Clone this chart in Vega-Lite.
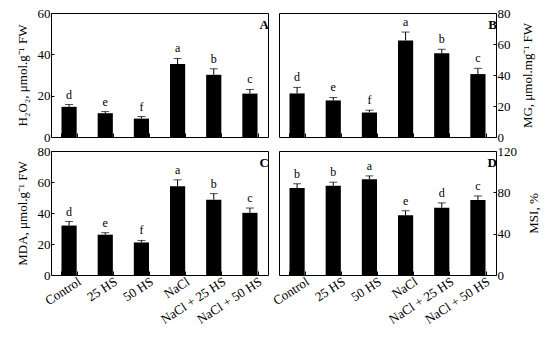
{
  "$schema": "https://vega.github.io/schema/vega-lite/v6.json",
  "background": "white",
  "padding": {"left": 15, "top": 6, "right": 3, "bottom": 3},
  "datasets": {
    "d": [
      {"panel": "A", "treatment": "Control", "value": 14.6, "top": 15.7, "letter": "d"},
      {"panel": "A", "treatment": "25 HS", "value": 11.5, "top": 12.3, "letter": "e"},
      {"panel": "A", "treatment": "50 HS", "value": 8.9, "top": 9.9, "letter": "f"},
      {"panel": "A", "treatment": "NaCl", "value": 35.3, "top": 38.0, "letter": "a"},
      {"panel": "A", "treatment": "NaCl + 25 HS", "value": 30.1, "top": 33.0, "letter": "b"},
      {"panel": "A", "treatment": "NaCl + 50 HS", "value": 21.0, "top": 23.0, "letter": "c"},
      {"panel": "B", "treatment": "Control", "value": 28.1, "top": 32.0, "letter": "d"},
      {"panel": "B", "treatment": "25 HS", "value": 23.6, "top": 25.5, "letter": "e"},
      {"panel": "B", "treatment": "50 HS", "value": 15.8, "top": 17.3, "letter": "f"},
      {"panel": "B", "treatment": "NaCl", "value": 62.3, "top": 67.7, "letter": "a"},
      {"panel": "B", "treatment": "NaCl + 25 HS", "value": 54.1, "top": 56.6, "letter": "b"},
      {"panel": "B", "treatment": "NaCl + 50 HS", "value": 40.6, "top": 44.3, "letter": "c"},
      {"panel": "C", "treatment": "Control", "value": 31.9, "top": 34.5, "letter": "d"},
      {"panel": "C", "treatment": "25 HS", "value": 26.0, "top": 27.3, "letter": "e"},
      {"panel": "C", "treatment": "50 HS", "value": 21.0, "top": 22.3, "letter": "f"},
      {"panel": "C", "treatment": "NaCl", "value": 57.3, "top": 61.4, "letter": "a"},
      {"panel": "C", "treatment": "NaCl + 25 HS", "value": 48.6, "top": 52.5, "letter": "b"},
      {"panel": "C", "treatment": "NaCl + 50 HS", "value": 40.1, "top": 43.2, "letter": "c"},
      {"panel": "D", "treatment": "Control", "value": 84.1, "top": 88.3, "letter": "b"},
      {"panel": "D", "treatment": "25 HS", "value": 86.3, "top": 89.8, "letter": "b"},
      {"panel": "D", "treatment": "50 HS", "value": 92.7, "top": 95.9, "letter": "a"},
      {"panel": "D", "treatment": "NaCl", "value": 57.8, "top": 62.2, "letter": "e"},
      {"panel": "D", "treatment": "NaCl + 25 HS", "value": 65.1, "top": 69.8, "letter": "d"},
      {"panel": "D", "treatment": "NaCl + 50 HS", "value": 72.7, "top": 76.5, "letter": "c"}
    ]
  },
  "data": {"name": "d"},
  "columns": 2,
  "bounds": "flush",
  "spacing": {"row": 14, "column": 11},
  "concat": [
    {
      "width": 217, "height": 124,
      "transform": [{"filter": "datum.panel === 'A'"}],
      "title": {"text": "A", "anchor": "end", "frame": "group", "offset": -25, "dx": 1, "fontWeight": "bold", "fontSize": 13, "font": "Liberation Serif", "color": "black"},
      "encoding": {"x": {"field": "treatment", "type": "nominal", "sort": ["Control", "25 HS", "50 HS", "NaCl", "NaCl + 25 HS", "NaCl + 50 HS"], "scale": {"paddingInner": 0.58, "paddingOuter": 0.29}, "axis": {"labels": false, "title": null}}},
      "layer": [
        {"mark": {"type": "bar", "color": "black"}, "encoding": {"y": {"field": "value", "type": "quantitative", "scale": {"domain": [0, 60]}, "axis": {"values": [0, 20, 40, 60], "title": "H₂O₂, μmol.g⁻¹ FW", "orient": "left"}}}},
        {"mark": {"type": "rule", "color": "black"}, "encoding": {"y": {"field": "value", "type": "quantitative", "axis": {"values": [0, 20, 40, 60], "title": "H₂O₂, μmol.g⁻¹ FW", "orient": "left"}}, "y2": {"field": "top"}}},
        {"mark": {"type": "tick", "color": "black", "size": 8, "thickness": 1}, "encoding": {"y": {"field": "top", "type": "quantitative", "axis": {"values": [0, 20, 40, 60], "title": "H₂O₂, μmol.g⁻¹ FW", "orient": "left"}}}},
        {"mark": {"type": "text", "baseline": "bottom", "dy": -3, "fontSize": 12, "font": "Liberation Serif", "color": "black"}, "encoding": {"y": {"field": "top", "type": "quantitative", "axis": {"values": [0, 20, 40, 60], "title": "H₂O₂, μmol.g⁻¹ FW", "orient": "left"}}, "text": {"field": "letter"}}}
      ]
    },
    {
      "width": 217, "height": 124,
      "transform": [{"filter": "datum.panel === 'B'"}],
      "title": {"text": "B", "anchor": "end", "frame": "group", "offset": -25, "dx": 1, "fontWeight": "bold", "fontSize": 13, "font": "Liberation Serif", "color": "black"},
      "encoding": {"x": {"field": "treatment", "type": "nominal", "sort": ["Control", "25 HS", "50 HS", "NaCl", "NaCl + 25 HS", "NaCl + 50 HS"], "scale": {"paddingInner": 0.58, "paddingOuter": 0.29}, "axis": {"labels": false, "title": null}}},
      "layer": [
        {"mark": {"type": "bar", "color": "black"}, "encoding": {"y": {"field": "value", "type": "quantitative", "scale": {"domain": [0, 80]}, "axis": {"values": [0, 20, 40, 60, 80], "title": "MG, μmol.mg⁻¹ FW", "orient": "right", "titleAngle": 270, "titleBaseline": "top", "titlePadding": 11}}}},
        {"mark": {"type": "rule", "color": "black"}, "encoding": {"y": {"field": "value", "type": "quantitative", "axis": {"values": [0, 20, 40, 60, 80], "title": "MG, μmol.mg⁻¹ FW", "orient": "right", "titleAngle": 270, "titleBaseline": "top", "titlePadding": 11}}, "y2": {"field": "top"}}},
        {"mark": {"type": "tick", "color": "black", "size": 8, "thickness": 1}, "encoding": {"y": {"field": "top", "type": "quantitative", "axis": {"values": [0, 20, 40, 60, 80], "title": "MG, μmol.mg⁻¹ FW", "orient": "right", "titleAngle": 270, "titleBaseline": "top", "titlePadding": 11}}}},
        {"mark": {"type": "text", "baseline": "bottom", "dy": -3, "fontSize": 12, "font": "Liberation Serif", "color": "black"}, "encoding": {"y": {"field": "top", "type": "quantitative", "axis": {"values": [0, 20, 40, 60, 80], "title": "MG, μmol.mg⁻¹ FW", "orient": "right", "titleAngle": 270, "titleBaseline": "top", "titlePadding": 11}}, "text": {"field": "letter"}}}
      ]
    },
    {
      "width": 217, "height": 124,
      "transform": [{"filter": "datum.panel === 'C'"}],
      "title": {"text": "C", "anchor": "end", "frame": "group", "offset": -25, "dx": 1, "fontWeight": "bold", "fontSize": 13, "font": "Liberation Serif", "color": "black"},
      "encoding": {"x": {"field": "treatment", "type": "nominal", "sort": ["Control", "25 HS", "50 HS", "NaCl", "NaCl + 25 HS", "NaCl + 50 HS"], "scale": {"paddingInner": 0.58, "paddingOuter": 0.29}, "axis": {"title": null, "labelAngle": -33, "labelAlign": "right", "labelBaseline": "top", "labelOffset": 7}}},
      "layer": [
        {"mark": {"type": "bar", "color": "black"}, "encoding": {"y": {"field": "value", "type": "quantitative", "scale": {"domain": [0, 80]}, "axis": {"values": [0, 20, 40, 60, 80], "title": "MDA, μmol.g⁻¹ FW", "orient": "left"}}}},
        {"mark": {"type": "rule", "color": "black"}, "encoding": {"y": {"field": "value", "type": "quantitative", "axis": {"values": [0, 20, 40, 60, 80], "title": "MDA, μmol.g⁻¹ FW", "orient": "left"}}, "y2": {"field": "top"}}},
        {"mark": {"type": "tick", "color": "black", "size": 8, "thickness": 1}, "encoding": {"y": {"field": "top", "type": "quantitative", "axis": {"values": [0, 20, 40, 60, 80], "title": "MDA, μmol.g⁻¹ FW", "orient": "left"}}}},
        {"mark": {"type": "text", "baseline": "bottom", "dy": -3, "fontSize": 12, "font": "Liberation Serif", "color": "black"}, "encoding": {"y": {"field": "top", "type": "quantitative", "axis": {"values": [0, 20, 40, 60, 80], "title": "MDA, μmol.g⁻¹ FW", "orient": "left"}}, "text": {"field": "letter"}}}
      ]
    },
    {
      "width": 217, "height": 124,
      "transform": [{"filter": "datum.panel === 'D'"}],
      "title": {"text": "D", "anchor": "end", "frame": "group", "offset": -25, "dx": 1, "fontWeight": "bold", "fontSize": 13, "font": "Liberation Serif", "color": "black"},
      "encoding": {"x": {"field": "treatment", "type": "nominal", "sort": ["Control", "25 HS", "50 HS", "NaCl", "NaCl + 25 HS", "NaCl + 50 HS"], "scale": {"paddingInner": 0.58, "paddingOuter": 0.29}, "axis": {"title": null, "labelAngle": -33, "labelAlign": "right", "labelBaseline": "top", "labelOffset": 7}}},
      "layer": [
        {"mark": {"type": "bar", "color": "black"}, "encoding": {"y": {"field": "value", "type": "quantitative", "scale": {"domain": [0, 120]}, "axis": {"values": [0, 40, 80, 120], "title": "MSI, %", "orient": "right", "titleAngle": 270, "titleBaseline": "top", "titlePadding": 11}}}},
        {"mark": {"type": "rule", "color": "black"}, "encoding": {"y": {"field": "value", "type": "quantitative", "axis": {"values": [0, 40, 80, 120], "title": "MSI, %", "orient": "right", "titleAngle": 270, "titleBaseline": "top", "titlePadding": 11}}, "y2": {"field": "top"}}},
        {"mark": {"type": "tick", "color": "black", "size": 8, "thickness": 1}, "encoding": {"y": {"field": "top", "type": "quantitative", "axis": {"values": [0, 40, 80, 120], "title": "MSI, %", "orient": "right", "titleAngle": 270, "titleBaseline": "top", "titlePadding": 11}}}},
        {"mark": {"type": "text", "baseline": "bottom", "dy": -3, "fontSize": 12, "font": "Liberation Serif", "color": "black"}, "encoding": {"y": {"field": "top", "type": "quantitative", "axis": {"values": [0, 40, 80, 120], "title": "MSI, %", "orient": "right", "titleAngle": 270, "titleBaseline": "top", "titlePadding": 11}}, "text": {"field": "letter"}}}
      ]
    }
  ],
  "config": {
    "font": "Liberation Serif",
    "view": {"stroke": "black", "strokeWidth": 1},
    "axis": {"domain": false, "grid": false, "labelFont": "Liberation Serif", "labelFontSize": 13, "labelColor": "black", "titleFont": "Liberation Serif", "titleFontSize": 13, "titleFontWeight": "normal", "titleColor": "black", "tickColor": "black", "labelPadding": 4, "titlePadding": 8},
    "axisX": {"tickBand": "extent", "tickSize": -4},
    "axisY": {"tickSize": -3}
  }
}
